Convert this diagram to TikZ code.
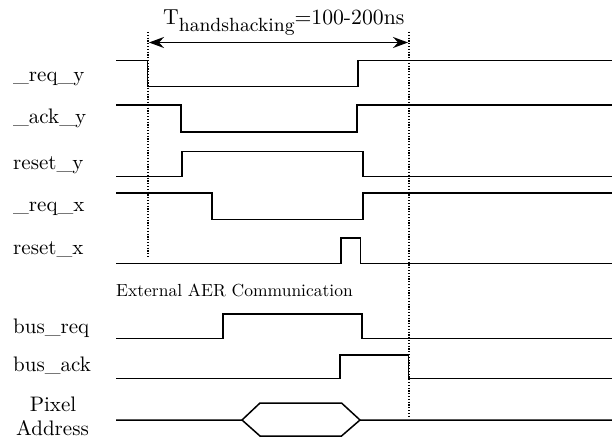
\documentclass[tikz,border=0pt]{standalone}
\usetikzlibrary{arrows.meta}
\begin{document}
\begin{tikzpicture}[x=1pt,y=-1pt,
  sig/.style={line width=1.5pt, line join=miter},
  guide/.style={line width=1.3pt, dash pattern=on 1.2pt off 1.6pt},
  lbl/.style={anchor=base west, inner sep=0pt},
  dim/.style={line width=1.5pt, {Stealth[length=15pt,width=11pt,inset=5pt]}-{Stealth[length=15pt,width=11pt,inset=5pt]}}]
\useasboundingbox (0,0) rectangle (612,441);
% guides
\coordinate (g1t) at (148,32); \coordinate (g1b) at (148,258);
\coordinate (g2t) at (409,32); \coordinate (g2b) at (409,418);
\draw[guide] (g1t) -- (g1b);
\draw[guide] (g2t) -- (g2b);
\coordinate (a1) at (149,42.5); \coordinate (a2) at (408,42.5);
\draw[dim] (a1) -- (a2);
\node[lbl] (title) at (163,25) {\scalebox{2.17}{T\raisebox{-3.2pt}{\fontsize{8.8}{9}\selectfont handshacking}=100-200ns}};
% labels
\node[lbl] (l1) at (13,81.7) {\scalebox{2.1}{\_req\_y}};
\node[lbl] (l2) at (13,123.3) {\scalebox{2.1}{\_ack\_y}};
\node[lbl] (l3) at (13,169) {\scalebox{2.1}{reset\_y}};
\node[lbl] (l4) at (13,211.7) {\scalebox{2.1}{\_req\_x}};
\node[lbl] (l5) at (13,254) {\scalebox{2.1}{reset\_x}};
\node[lbl] (ext) at (116,296) {\scalebox{1.75}{External AER Communication}};
\node[lbl] (l6) at (13,333.3) {\scalebox{2.1}{bus\_req}};
\node[lbl] (l7) at (13,371.7) {\scalebox{2.1}{bus\_ack}};
\node[lbl, anchor=base] (l8a) at (53,411.7) {\scalebox{2.1}{Pixel}};
\node[lbl, anchor=base] (l8b) at (52.5,435) {\scalebox{2.1}{Address}};
% signals
\draw[sig] (116,60.5) -- (147.5,60.5) -- (147.5,86.5) -- (358,86.5) -- (358,60.5) -- (612,60.5);
\draw[sig] (116,105) -- (181,105) -- (181,132) -- (357,132) -- (357,105) -- (612,105);
\draw[sig] (116,176.5) -- (182,176.5) -- (182,151.5) -- (363,151.5) -- (363,176.5) -- (612,176.5);
\draw[sig] (116,193) -- (212,193) -- (212,219.5) -- (363,219.5) -- (363,193) -- (612,193);
\draw[sig] (116,263.5) -- (341,263.5) -- (341,238) -- (360.5,238) -- (360.5,263.5) -- (612,263.5);
\draw[sig] (116,338.5) -- (223,338.5) -- (223,314) -- (362,314) -- (362,338.5) -- (612,338.5);
\draw[sig] (116,378.5) -- (340,378.5) -- (340,355) -- (408.5,355) -- (408.5,378.5) -- (612,378.5);
\draw[sig] (116,420) -- (242,420) -- (260,403) -- (341.5,403) -- (360,420) -- (612,420);
\draw[sig] (242,420) -- (260,436) -- (341.5,436) -- (360,420);
\end{tikzpicture}
\end{document}
